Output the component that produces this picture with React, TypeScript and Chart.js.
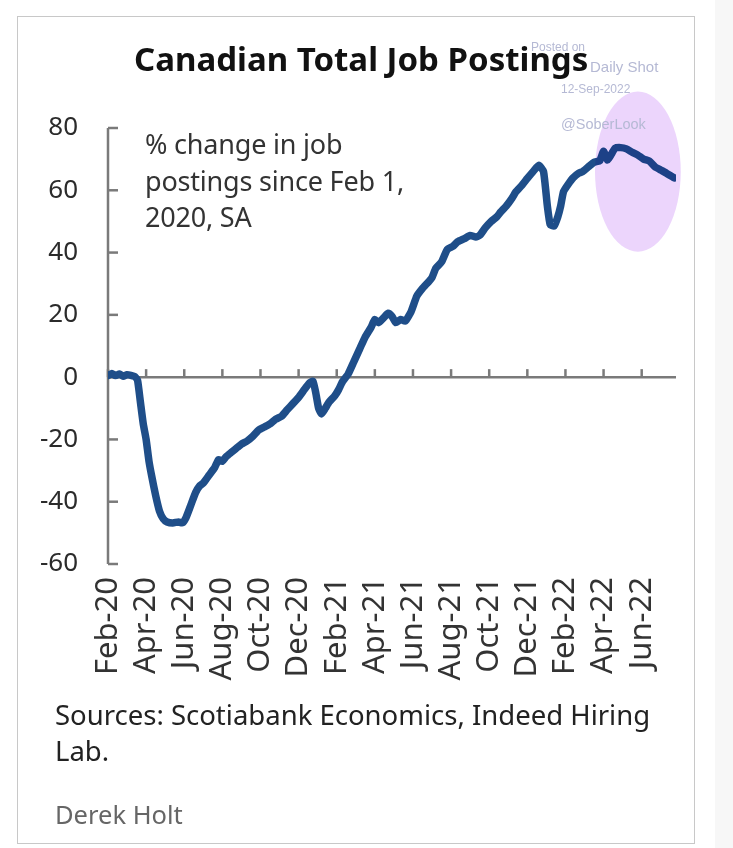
import React, { useEffect, useRef } from "react";
import { Chart, registerables } from "chart.js";

Chart.register(...registerables);

// ---- Data ----
const tickLabels = [
  "Feb-20", "Apr-20", "Jun-20", "Aug-20", "Oct-20", "Dec-20", "Feb-21", "Apr-21",
  "Jun-21", "Aug-21", "Oct-21", "Dec-21", "Feb-22", "Apr-22", "Jun-22",
];

// months elapsed since Feb 1, 2020
const monthsSinceFeb2020 = [
  0, 0.2, 0.4, 0.6, 0.8, 1.0, 1.2, 1.4, 1.55, 1.7, 1.85, 2.0, 2.15, 2.3, 2.5, 2.7, 2.9,
  3.1, 3.4, 3.7, 3.9, 4.1, 4.35, 4.6, 4.8, 5.0, 5.3, 5.6, 5.8, 6.0, 6.2, 6.5, 6.8, 7.0,
  7.3, 7.6, 7.9, 8.2, 8.5, 8.8, 9.1, 9.4, 9.7, 10.0, 10.3, 10.55, 10.75, 10.9, 11.05,
  11.2, 11.4, 11.6, 11.9, 12.1, 12.3, 12.6, 12.9, 13.2, 13.5, 13.8, 14.0, 14.2, 14.45,
  14.7, 14.9, 15.1, 15.35, 15.6, 15.9, 16.2, 16.5, 16.8, 17.0, 17.2, 17.5, 17.8, 18.1,
  18.35, 18.7, 19.0, 19.3, 19.5, 19.8, 20.1, 20.4, 20.6, 20.9, 21.2, 21.4, 21.7, 22.0,
  22.3, 22.6, 22.85, 23.05, 23.2, 23.4, 23.6, 23.75, 23.9, 24.15, 24.4, 24.7, 24.9,
  25.2, 25.5, 25.8, 26.0, 26.2, 26.4, 26.6, 26.9, 27.2, 27.5, 27.8, 28.1, 28.4, 28.7,
  29.0, 29.3, 29.7,
];

// % change in job postings since Feb 1, 2020, SA
const postingsChange = [
  0.5, 1.2, 0.5, 1.0, 0.3, 0.8, 0.6, 0.2, -1, -8, -15, -20, -27, -32, -38, -43, -45.5,
  -46.5, -46.8, -46.5, -46.8, -45, -41, -37, -35, -34, -31.5, -29, -26.5, -27, -25.5, -24,
  -22.5, -21.5, -20.5, -19, -17, -16, -15, -13.5, -12.6, -10.5, -8.5, -6.5, -4, -2, -1.3,
  -5, -10, -11.8, -10, -8, -6, -4, -1.5, 1, 5, 9, 13, 16, 18.5, 17.5, 19, 20.5, 19.5,
  17.5, 18.5, 18, 21, 26, 28.5, 30.5, 32, 35, 37, 41, 42, 43.5, 44.5, 45.5, 45, 45.5, 48,
  50, 51.5, 53, 55, 57.5, 59.5, 61.5, 63.8, 66, 68, 66, 55, 49, 48.5, 51.5, 55, 59.6, 62,
  64, 65.5, 66, 67.5, 69, 69.5, 72.5, 69.7, 71.5, 73.5, 73.7, 73.3, 72.2, 71.3, 70, 69.4,
  67.5, 66.5, 65.5, 64,
];

// highlighted recent period (ellipse), in data units
const highlightCenterMonth = 27.8;
const highlightCenterValue = 66;
const highlightHalfWidthMonths = 2.25;
const highlightHalfHeightValue = 25.7;

const FONT = "'Noto Sans', 'Open Sans', sans-serif";
const AXIS_COLOR = "#7a7a7a";
const LINE_COLOR = "#1f4e89";

const decorPlugin = {
  id: "decor",
  beforeDatasetsDraw(chart: any) {
    const { ctx, chartArea, scales } = chart;
    const xs = scales.x;
    const ys = scales.y;
    const y0 = ys.getPixelForValue(0);
    ctx.save();
    ctx.strokeStyle = AXIS_COLOR;
    ctx.lineWidth = 2.5;
    ctx.beginPath();
    ctx.moveTo(chartArea.left, ys.getPixelForValue(ys.max));
    ctx.lineTo(chartArea.left, ys.getPixelForValue(ys.min));
    ctx.stroke();
    for (const t of ys.ticks) {
      const py = ys.getPixelForValue(t.value);
      ctx.beginPath();
      ctx.moveTo(chartArea.left, py);
      ctx.lineTo(chartArea.left + 10, py);
      ctx.stroke();
    }
    ctx.beginPath();
    ctx.moveTo(chartArea.left, y0);
    ctx.lineTo(chartArea.right, y0);
    ctx.stroke();
    for (const t of xs.ticks) {
      const px = xs.getPixelForValue(t.value);
      ctx.beginPath();
      ctx.moveTo(px, y0);
      ctx.lineTo(px, y0 - 8);
      ctx.stroke();
    }
    ctx.restore();
  },
  afterDatasetsDraw(chart: any) {
    const { ctx, scales } = chart;
    const xs = scales.x;
    const ys = scales.y;
    const cx = xs.getPixelForValue(highlightCenterMonth);
    const cy = ys.getPixelForValue(highlightCenterValue);
    const rx = Math.abs(xs.getPixelForValue(highlightCenterMonth + highlightHalfWidthMonths) - cx);
    const ry = Math.abs(ys.getPixelForValue(highlightCenterValue + highlightHalfHeightValue) - cy);
    ctx.save();
    ctx.globalCompositeOperation = "multiply";
    ctx.fillStyle = "rgb(236, 213, 252)";
    ctx.beginPath();
    ctx.ellipse(cx, cy, rx, ry, 0, 0, Math.PI * 2);
    ctx.fill();
    ctx.restore();
  },
};

export default function App() {
  const canvasRef = useRef<HTMLCanvasElement | null>(null);

  useEffect(() => {
    const canvas = canvasRef.current;
    if (!canvas) return;
    const points = monthsSinceFeb2020.map((m, i) => ({ x: m, y: postingsChange[i] }));
    const chart = new Chart(canvas, {
      type: "line",
      data: {
        datasets: [
          {
            data: points,
            borderColor: LINE_COLOR,
            borderWidth: 7.5,
            pointRadius: 0,
            tension: 0.15,
            borderJoinStyle: "round",
            borderCapStyle: "round",
            fill: false,
          },
        ],
      },
      options: {
        responsive: false,
        animation: false,
        layout: { padding: { left: 0, top: 128, right: 57, bottom: 164 } },
        plugins: { legend: { display: false }, tooltip: { enabled: false }, title: { display: false } },
        scales: {
          x: {
            type: "linear",
            min: 0,
            max: 29.8,
            afterFit: (s: any) => {
              s.height = 120;
            },
            grid: { display: false, drawTicks: false },
            border: { display: false },
            ticks: {
              stepSize: 2,
              includeBounds: false,
              autoSkip: false,
              maxRotation: 90,
              minRotation: 90,
              padding: 13,
              color: "#333",
              font: { family: FONT, size: 31 },
              callback: (v: any) => {
                const idx = Math.round(Number(v) / 2);
                return Math.abs(Number(v) / 2 - idx) < 1e-6 ? tickLabels[idx] ?? "" : "";
              },
            },
          },
          y: {
            min: -60,
            max: 80,
            afterFit: (s: any) => {
              s.width = 108;
            },
            grid: { display: false, drawTicks: false },
            border: { display: false },
            ticks: {
              stepSize: 20,
              padding: 30,
              color: "#2b2b2b",
              font: { family: FONT, size: 26 },
            },
          },
        },
      },
      plugins: [decorPlugin],
    });
    return () => chart.destroy();
  }, []);

  const wm = "#b5b9d4";
  return (
    <div style={{ position: "absolute", left: 0, top: 0, width: 733, height: 848, background: "#fff", overflow: "hidden" }}>
      <div style={{ position: "absolute", left: 715, top: 0, width: 18, height: 848, background: "#f7f7f7" }} />
      <div
        style={{
          position: "absolute",
          left: 17,
          top: 16,
          width: 676,
          height: 826,
          border: "1.5px solid #c8c8c8",
        }}
      />
      <canvas ref={canvasRef} width={733} height={848} style={{ position: "absolute", left: 0, top: 0 }} />
      {/* watermark */}
      <div style={{ position: "absolute", left: 531, top: 40, font: "12px 'Liberation Sans', Arial, sans-serif", color: wm, lineHeight: "14px" }}>
        Posted on
      </div>
      <div style={{ position: "absolute", left: 590, top: 58, font: "15px 'Liberation Sans', Arial, sans-serif", color: wm, lineHeight: "18px" }}>
        Daily Shot
      </div>
      <div style={{ position: "absolute", left: 561, top: 82, font: "12px 'Liberation Sans', Arial, sans-serif", color: wm, lineHeight: "14px" }}>
        12-Sep-2022
      </div>
      <div style={{ position: "absolute", left: 561, top: 115, font: "14.5px 'Liberation Sans', Arial, sans-serif", color: wm, lineHeight: "18px" }}>
        @SoberLook
      </div>
      {/* title */}
      <div
        style={{
          position: "absolute",
          left: 134,
          top: 42,
          font: `bold 33px ${FONT}`,
          lineHeight: "33px",
          color: "#111",
          letterSpacing: "0px",
          whiteSpace: "nowrap",
        }}
      >
        Canadian Total Job Postings
      </div>
      {/* in-chart note */}
      <div
        style={{
          position: "absolute",
          left: 145,
          top: 126,
          font: `27px ${FONT}`,
          lineHeight: "36.5px",
          color: "#333",
          whiteSpace: "nowrap",
          letterSpacing: "-0.2px",
        }}
      >
        % change in job
        <br />
        postings since Feb 1,
        <br />
        2020, SA
      </div>
      {/* sources */}
      <div
        style={{
          position: "absolute",
          left: 55,
          top: 697,
          font: `27.5px ${FONT}`,
          lineHeight: "36px",
          color: "#222",
          whiteSpace: "nowrap",
        }}
      >
        Sources: Scotiabank Economics, Indeed Hiring
        <br />
        Lab.
      </div>
      <div
        style={{
          position: "absolute",
          left: 55,
          top: 799,
          font: `25.5px ${FONT}`,
          lineHeight: "30px",
          color: "#666",
          whiteSpace: "nowrap",
        }}
      >
        Derek Holt
      </div>
    </div>
  );
}
